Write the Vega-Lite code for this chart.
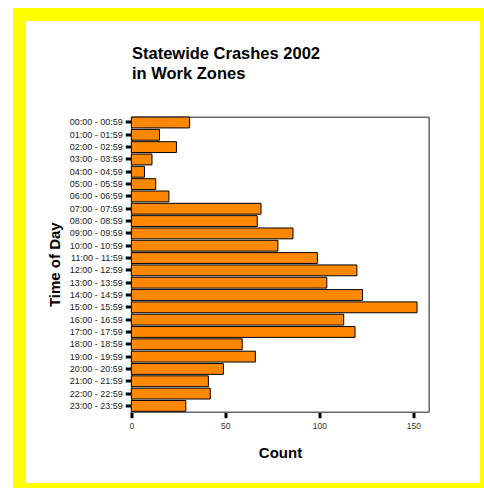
{
  "$schema": "https://vega.github.io/schema/vega-lite/v6.json",
  "width": 467,
  "height": 475,
  "autosize": {"type": "none"},
  "padding": {"left": 19.5, "top": 14.5, "right": 0, "bottom": 0},
  "background": "white",
  "view": {"stroke": "#ffff00", "strokeWidth": 13, "fill": "white"},
  "title": {
    "text": ["Statewide Crashes 2002", "in Work Zones"],
    "anchor": "start",
    "frame": "group",
    "dx": 112.5,
    "dy": 72,
    "font": "Liberation Sans",
    "fontSize": 16.5,
    "fontWeight": "bold",
    "color": "black",
    "lineHeight": 20,
    "baseline": "top"
  },
  "data": {
    "values": [
      {"time": "00:00 - 00:59", "count": 31},
      {"time": "01:00 - 01:59", "count": 15},
      {"time": "02:00 - 02:59", "count": 24},
      {"time": "03:00 - 03:59", "count": 11},
      {"time": "04:00 - 04:59", "count": 7},
      {"time": "05:00 - 05:59", "count": 13},
      {"time": "06:00 - 06:59", "count": 20},
      {"time": "07:00 - 07:59", "count": 69},
      {"time": "08:00 - 08:59", "count": 67},
      {"time": "09:00 - 09:59", "count": 86},
      {"time": "10:00 - 10:59", "count": 78},
      {"time": "11:00 - 11:59", "count": 99},
      {"time": "12:00 - 12:59", "count": 120},
      {"time": "13:00 - 13:59", "count": 104},
      {"time": "14:00 - 14:59", "count": 123},
      {"time": "15:00 - 15:59", "count": 152},
      {"time": "16:00 - 16:59", "count": 113},
      {"time": "17:00 - 17:59", "count": 119},
      {"time": "18:00 - 18:59", "count": 59},
      {"time": "19:00 - 19:59", "count": 66},
      {"time": "20:00 - 20:59", "count": 49},
      {"time": "21:00 - 21:59", "count": 41},
      {"time": "22:00 - 22:59", "count": 42},
      {"time": "23:00 - 23:59", "count": 29}
    ]
  },
  "layer": [
    {
      "mark": {"type": "bar", "fill": "#ff8800", "stroke": "black", "strokeWidth": 1},
      "encoding": {
        "y": {
          "field": "time",
          "type": "nominal",
          "sort": null,
          "scale": {"range": [102.2, 397.2], "paddingInner": 0.12, "paddingOuter": 0.03},
          "axis": {
            "title": "Time of Day",
            "titleFont": "Liberation Sans",
            "titleFontSize": 15,
            "titleFontWeight": "bold",
            "titleColor": "black",
            "titlePadding": 7,
            "labelFont": "Liberation Sans",
            "labelFontSize": 9,
            "labelColor": "#1a1a1a",
            "labelPadding": 3,
            "tickColor": "black",
            "tickWidth": 3,
            "tickSize": 6,
            "domainColor": "#666666",
            "domainWidth": 1.5,
            "offset": -111.8,
            "grid": false
          }
        },
        "x": {
          "field": "count",
          "type": "quantitative",
          "scale": {"domain": [0, 158.2], "range": [111.8, 409.2], "nice": false, "zero": true},
          "axis": {
            "values": [0, 50, 100, 150],
            "title": "Count",
            "titleFont": "Liberation Sans",
            "titleFontSize": 15,
            "titleFontWeight": "bold",
            "titleColor": "black",
            "titlePadding": 15,
            "labelFont": "Liberation Sans",
            "labelFontSize": 8.5,
            "labelColor": "#333333",
            "labelPadding": 4,
            "labelFlush": false,
            "tickColor": "black",
            "tickWidth": 3,
            "tickSize": 6,
            "domainColor": "#666666",
            "domainWidth": 1.5,
            "offset": -77.8,
            "grid": false
          }
        }
      }
    },
    {
      "mark": {"type": "bar", "opacity": 0},
      "encoding": {
        "y": {
          "field": "time",
          "type": "nominal",
          "sort": null,
          "axis": {"orient": "right", "offset": -57.8, "labels": false, "ticks": false, "title": null, "domainColor": "#666666", "domainWidth": 1.5, "grid": false}
        },
        "x": {
          "field": "count",
          "type": "quantitative",
          "axis": {"orient": "top", "offset": -102.2, "labels": false, "ticks": false, "title": null, "domainColor": "#666666", "domainWidth": 1.5, "grid": false}
        }
      }
    }
  ],
  "resolve": {"axis": {"x": "independent", "y": "independent"}}
}
